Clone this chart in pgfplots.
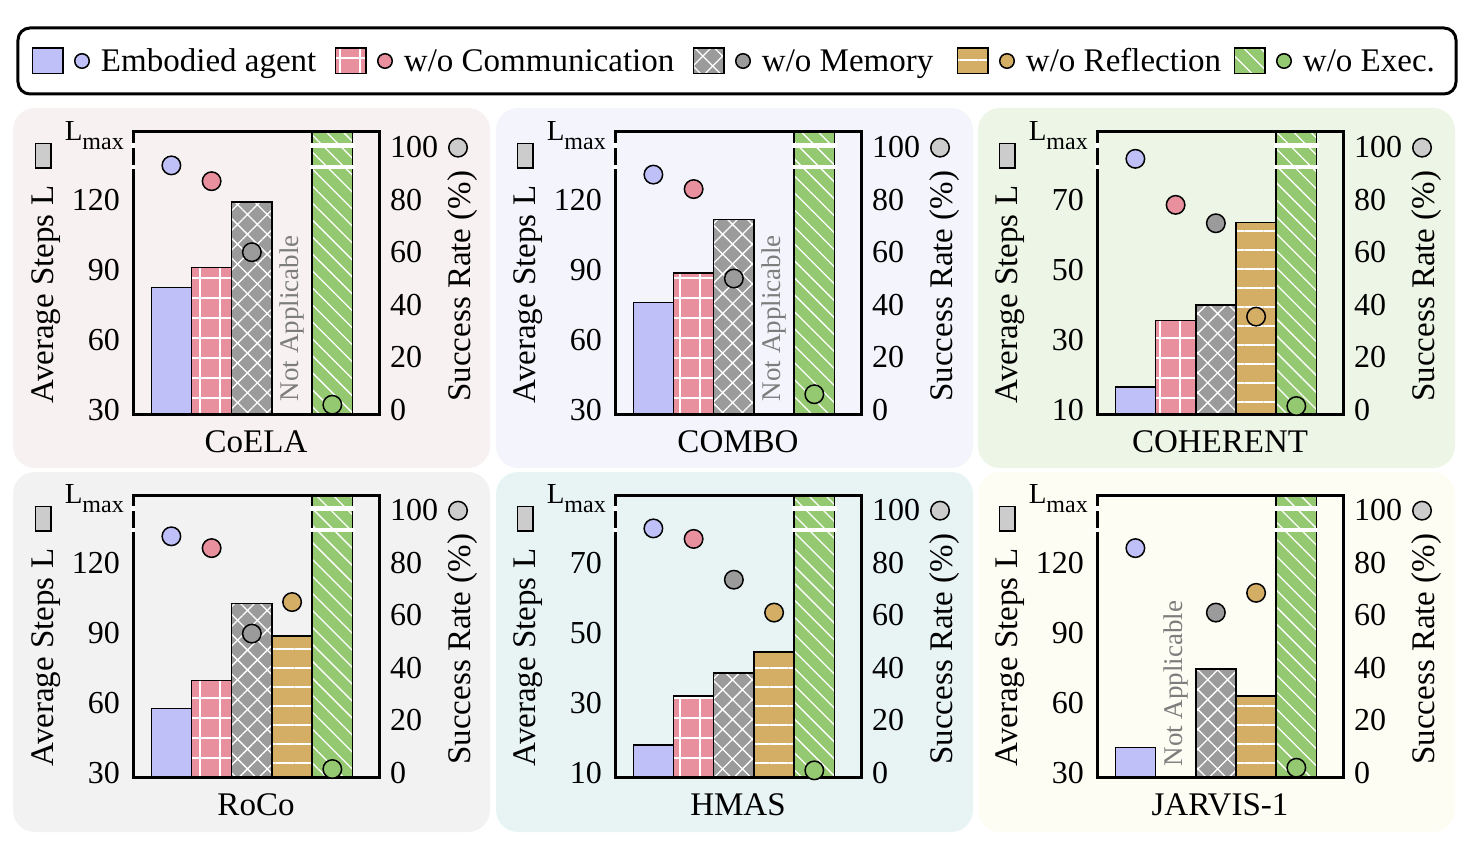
\documentclass[border=0pt]{standalone}
\usepackage{fontspec}
\setmainfont{Liberation Serif}
\usepackage{pgfplots}
\pgfplotsset{compat=1.18}
\usetikzlibrary{patterns.meta}
\setlength{\fboxsep}{0pt}
\setlength{\fboxrule}{1.5pt}

\definecolor{embc}{RGB}{192,192,248}
\definecolor{comc}{RGB}{232,144,157}
\definecolor{memc}{RGB}{155,155,155}
\definecolor{refc}{RGB}{212,174,101}
\definecolor{exc}{RGB}{148,201,114}
\definecolor{sideg}{RGB}{204,204,204}
\definecolor{nagray}{RGB}{125,125,125}
\definecolor{bgA}{RGB}{248,241,241}
\definecolor{bgB}{RGB}{244,245,252}
\definecolor{bgC}{RGB}{237,245,230}
\definecolor{bgD}{RGB}{242,242,242}
\definecolor{bgE}{RGB}{232,244,244}
\definecolor{bgF}{RGB}{253,253,243}

\tikzset{
 patC/.style={postaction={pattern={Hatch[angle=0,distance=20pt,line width=2pt]}, pattern color=white, draw=black, line width=1.5pt}},
 patM/.style={postaction={pattern={Hatch[angle=45,distance=14pt,line width=1.3pt]}, pattern color=white, draw=black, line width=1.5pt}},
 patR/.style={postaction={pattern={Lines[angle=0,distance=19pt,line width=1.5pt]}, pattern color=white, draw=black, line width=1.5pt}},
 patX/.style={postaction={pattern={Lines[angle=-45,distance=12pt,line width=1.3pt]}, pattern color=white, draw=black, line width=1.5pt}},
}

\pgfplotsset{
 base/.style={scale only axis, width=246pt, height=282pt, anchor=south west,
   xmin=-0.954, xmax=5.16, xtick=\empty, major tick length=0pt,
   /pgf/number format/assume math mode=true,
   tick label style={font=\fontsize{32}{32}\selectfont},
   label style={font=\fontsize{33}{33}\selectfont}},
 leftcom/.style={base, axis on top, axis line style={line width=3pt},
   yticklabel style={anchor=east, inner sep=0pt, xshift=-13pt},
   ylabel={Average Steps L\hspace{17pt}\raisebox{3pt}{\fcolorbox{black}{sideg}{\rule{23pt}{0pt}\rule{0pt}{14pt}}}},
   ylabel style={at={(axis description cs:-0.325,0.5)}, anchor=base},
   xlabel style={at={(axis description cs:0.5,-0.1348)}, anchor=base}},
 leftA/.style={leftcom, ymin=28.29, ymax=148.91, ytick={30,60,90,120}},
 leftB/.style={leftcom, ymin=8.86, ymax=89.28, ytick={10,30,50,70}},
 rightax/.style={base, ymin=-1.52, ymax=105.7, ytick={0,20,40,60,80,100},
   axis y line*=right, hide x axis, y axis line style={draw=none},
   yticklabel style={anchor=west, inner sep=0pt, xshift=11pt}, clip=false,
   ylabel={Success Rate (\%)\hspace{13pt}\tikz[baseline={(0pt,-12pt)}]\draw[fill=sideg, line width=1.5pt] (0,0) circle (9.25pt);},
   ylabel style={at={(axis description cs:1.370,0.512)}, anchor=base}},
 barbase/.style={ybar, bar width=1, bar shift=0pt, draw=black, line width=1.5pt},
 bE/.style={barbase, fill=embc},
 bC/.style={barbase, fill=comc, patC},
 bM/.style={barbase, fill=memc, patM},
 bR/.style={barbase, fill=refc, patR},
 bX/.style={barbase, fill=exc, patX},
 dE/.style={only marks, mark=*, mark size=9.25pt, mark options={draw=black, fill=embc, line width=1.5pt}},
 dC/.style={only marks, mark=*, mark size=9.25pt, mark options={draw=black, fill=comc, line width=1.5pt}},
 dM/.style={only marks, mark=*, mark size=9.25pt, mark options={draw=black, fill=memc, line width=1.5pt}},
 dR/.style={only marks, mark=*, mark size=9.25pt, mark options={draw=black, fill=refc, line width=1.5pt}},
 dX/.style={only marks, mark=*, mark size=9.25pt, mark options={draw=black, fill=exc, line width=1.5pt}},
}

\newcommand\decor{%
 \draw[white, line width=5pt] (rel axis cs:-0.0075,0.952) -- (rel axis cs:0.0075,0.952);
 \draw[white, line width=4pt] (rel axis cs:-0.0075,0.876) -- (rel axis cs:0.0075,0.876);
 \draw[white, line width=5pt] (rel axis cs:0.7187,0.952) -- (rel axis cs:0.9019,0.952);
 \draw[white, line width=4pt] (rel axis cs:0.7187,0.876) -- (rel axis cs:0.9019,0.876);
 \node[anchor=base east, inner sep=0pt, font=\fontsize{29}{29}\selectfont] at (axis description cs:-0.0366,0.9716) {L\raisebox{-9pt}{\fontsize{24}{24}\selectfont max}};
}
\newcommand\na[2]{\node[rotate=90, anchor=west, inner sep=0pt, text=nagray, font=\fontsize{27}{27}\selectfont] at (rel axis cs:#1,#2) {Not Applicable};}
\newcommand\legimg[2]{%
 \path[draw=none, fill=none] (0pt,-33pt) rectangle (69pt,33pt);
 \draw[fill=#1, draw=black, line width=1.5pt, sharp corners, #2] (0.75pt,-12.75pt) rectangle (31.25pt,12.75pt);
 \draw[fill=#1, draw=black, line width=1.5pt] (50pt,0pt) circle (7.25pt);}

\begin{document}
\begin{tikzpicture}
\useasboundingbox (0pt,0pt) rectangle (1478pt,-858pt);
\fill[white] (0pt,0pt) rectangle (1478pt,-858pt);
% panel backgrounds
\fill[bgA, rounded corners=22pt] (13pt,-108pt) rectangle (490pt,-468pt);
\fill[bgB, rounded corners=22pt] (496pt,-108pt) rectangle (973pt,-468pt);
\fill[bgC, rounded corners=22pt] (978pt,-108pt) rectangle (1455pt,-468pt);
\fill[bgD, rounded corners=22pt] (13pt,-472pt) rectangle (490pt,-832pt);
\fill[bgE, rounded corners=22pt] (496pt,-472pt) rectangle (973pt,-832pt);
\fill[bgF, rounded corners=22pt] (978pt,-472pt) rectangle (1455pt,-832pt);

% legend
\begin{axis}[hide axis, scale only axis, width=1438pt, height=68pt, at={(18pt,-95pt)}, anchor=south west,
  xmin=0, xmax=1, ymin=0, ymax=1, legend columns=5,
  legend style={at={(0.5,0.5)}, anchor=center, draw=black, line width=3pt, rounded corners=12pt,
    inner xsep=14pt, inner ysep=0pt, font=\fontsize{33}{33}\selectfont,
    nodes={inner sep=0pt, text height=22pt, text depth=0pt}}]
\addlegendimage{legend image code/.code={\legimg{embc}{}}}
\addlegendentry{\makebox[234pt][l]{Embodied agent}}
\addlegendimage{legend image code/.code={\legimg{comc}{patC}}}
\addlegendentry{\makebox[289pt][l]{w/o Communication}}
\addlegendimage{legend image code/.code={\legimg{memc}{patM}}}
\addlegendentry{\makebox[195pt][l]{w/o Memory}}
\addlegendimage{legend image code/.code={\legimg{refc}{patR}}}
\addlegendentry{\makebox[208pt][l]{w/o Reflection}}
\addlegendimage{legend image code/.code={\legimg{exc}{patX}}}
\addlegendentry{\makebox[139pt][l]{w/o Exec.}}
\end{axis}

% ---------- CoELA ----------
\begin{axis}[leftA, at={(133pt,-414pt)}, xlabel={CoELA}]
\addplot[bE] coordinates {(0,82.5)};
\addplot[bC] coordinates {(1,91)};
\addplot[bM] coordinates {(2,119)};
\addplot[bX] coordinates {(4,200)};
\end{axis}
\begin{axis}[rightax, at={(133pt,-414pt)}]
\decor
\addplot[dE] coordinates {(0,93)};
\addplot[dC] coordinates {(1,87)};
\addplot[dM] coordinates {(2,60)};
\addplot[dX] coordinates {(4,2)};
\na{0.6467}{0.045}
\end{axis}

% ---------- COMBO ----------
\begin{axis}[leftA, at={(615pt,-414pt)}, xlabel={COMBO}]
\addplot[bE] coordinates {(0,76)};
\addplot[bC] coordinates {(1,88.5)};
\addplot[bM] coordinates {(2,111.5)};
\addplot[bX] coordinates {(4,200)};
\end{axis}
\begin{axis}[rightax, at={(615pt,-414pt)}]
\decor
\addplot[dE] coordinates {(0,89.5)};
\addplot[dC] coordinates {(1,84)};
\addplot[dM] coordinates {(2,50)};
\addplot[dX] coordinates {(4,6)};
\na{0.6467}{0.045}
\end{axis}

% ---------- COHERENT ----------
\begin{axis}[leftB, at={(1097pt,-414pt)}, xlabel={COHERENT}]
\addplot[bE] coordinates {(0,16.5)};
\addplot[bC] coordinates {(1,35.5)};
\addplot[bM] coordinates {(2,40)};
\addplot[bR] coordinates {(3,63.5)};
\addplot[bX] coordinates {(4,200)};
\end{axis}
\begin{axis}[rightax, at={(1097pt,-414pt)}]
\decor
\addplot[dE] coordinates {(0,95.5)};
\addplot[dC] coordinates {(1,78)};
\addplot[dM] coordinates {(2,71)};
\addplot[dR] coordinates {(3,35.5)};
\addplot[dX] coordinates {(4,1.5)};
\end{axis}

% ---------- RoCo ----------
\begin{axis}[leftA, at={(133pt,-777pt)}, xlabel={RoCo}]
\addplot[bE] coordinates {(0,57.5)};
\addplot[bC] coordinates {(1,69.5)};
\addplot[bM] coordinates {(2,102.5)};
\addplot[bR] coordinates {(3,88.5)};
\addplot[bX] coordinates {(4,200)};
\end{axis}
\begin{axis}[rightax, at={(133pt,-777pt)}]
\decor
\addplot[dE] coordinates {(0,90)};
\addplot[dC] coordinates {(1,85.5)};
\addplot[dM] coordinates {(2,53)};
\addplot[dR] coordinates {(3,65)};
\addplot[dX] coordinates {(4,1.5)};
\end{axis}

% ---------- HMAS ----------
\begin{axis}[leftB, at={(615pt,-777pt)}, xlabel={HMAS}]
\addplot[bE] coordinates {(0,18)};
\addplot[bC] coordinates {(1,32)};
\addplot[bM] coordinates {(2,38.5)};
\addplot[bR] coordinates {(3,44.5)};
\addplot[bX] coordinates {(4,200)};
\end{axis}
\begin{axis}[rightax, at={(615pt,-777pt)}]
\decor
\addplot[dE] coordinates {(0,93)};
\addplot[dC] coordinates {(1,89)};
\addplot[dM] coordinates {(2,73.5)};
\addplot[dR] coordinates {(3,61)};
\addplot[dX] coordinates {(4,1)};
\end{axis}

% ---------- JARVIS-1 ----------
\begin{axis}[leftA, at={(1097pt,-777pt)}, xlabel={JARVIS-1}]
\addplot[bE] coordinates {(0,41)};
\addplot[bM] coordinates {(2,74.5)};
\addplot[bR] coordinates {(3,63)};
\addplot[bX] coordinates {(4,200)};
\end{axis}
\begin{axis}[rightax, at={(1097pt,-777pt)}]
\decor
\addplot[dE] coordinates {(0,85.5)};
\addplot[dM] coordinates {(2,61)};
\addplot[dR] coordinates {(3,68.5)};
\addplot[dX] coordinates {(4,2)};
\na{0.3196}{0.037}
\end{axis}
\end{tikzpicture}
\end{document}
